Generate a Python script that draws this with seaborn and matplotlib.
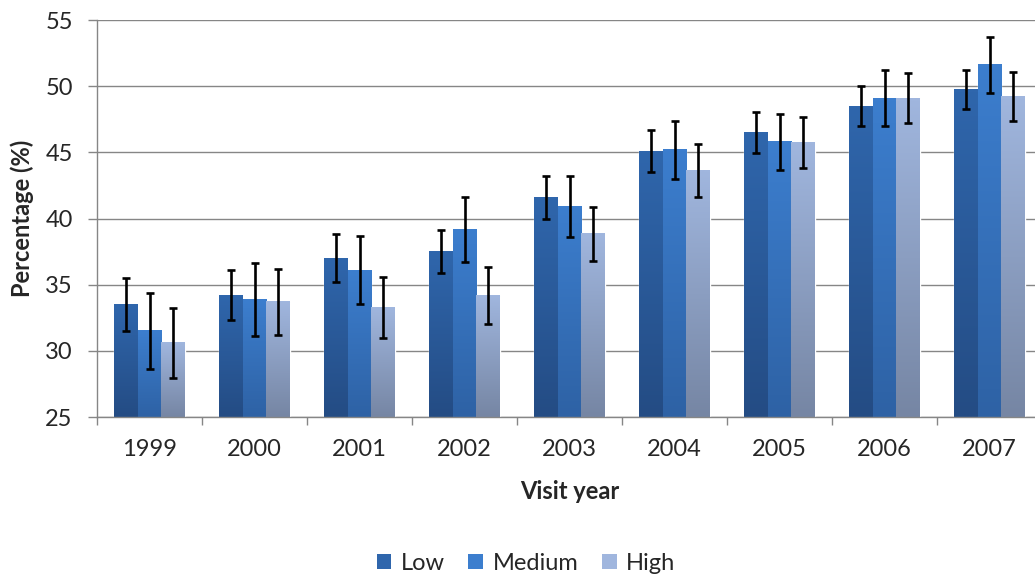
import numpy as np
import pandas as pd
import matplotlib
matplotlib.use("Agg")
import matplotlib.pyplot as plt
import matplotlib.colors as mcolors
from matplotlib.patches import Patch
import seaborn as sns

# --- data ---
years = ['1999', '2000', '2001', '2002', '2003', '2004', '2005', '2006', '2007']
levels = ['Low', 'Medium', 'High']

low = [33.5, 34.2, 37.0, 37.5, 41.6, 45.1, 46.5, 48.5, 49.75]
medium = [31.5, 33.85, 36.1, 39.2, 40.9, 45.2, 45.8, 49.1, 51.6]
high = [30.6, 33.7, 33.25, 34.15, 38.85, 43.6, 45.75, 49.1, 49.2]

low_err = [2.0, 1.9, 1.8, 1.65, 1.6, 1.55, 1.55, 1.5, 1.5]
medium_err = [2.9, 2.75, 2.55, 2.45, 2.3, 2.2, 2.1, 2.1, 2.15]
high_err = [2.65, 2.5, 2.3, 2.15, 2.05, 2.0, 1.95, 1.9, 1.85]

# gradient colours (top, bottom) per level
grad_top = {'Low': '#2F66AC', 'Medium': '#3C7ECE', 'High': '#A0B6DE'}
grad_bottom = {'Low': '#244C84', 'Medium': '#2E62A5', 'High': '#7686A4'}

df = pd.DataFrame({
    'Visit year': years * 3,
    'Percentage': low + medium + high,
    'Level': ['Low'] * 9 + ['Medium'] * 9 + ['High'] * 9,
})
errs = {'Low': low_err, 'Medium': medium_err, 'High': high_err}

sns.set_style("white")
plt.rcParams['font.family'] = ['Lato', 'DejaVu Sans']
fs = 17

fig = plt.figure(figsize=(10.35, 5.81), dpi=100)
ax = fig.add_axes([97 / 1035, 164 / 581, 945 / 1035, 397 / 581])

palette = {k: mcolors.to_rgb(grad_top[k]) for k in levels}
sns.barplot(data=df, x='Visit year', y='Percentage', hue='Level', hue_order=levels,
            palette=palette, width=0.68, gap=0, errorbar=None, saturation=1,
            legend=False, ax=ax, zorder=2)

ymin, ymax = 25, 55
grid_col = '#868686'

# gradient fill + error bars for every bar
for lvl, cont in zip(levels, ax.containers):
    c_top = np.array(mcolors.to_rgb(grad_top[lvl]))
    c_bot = np.array(mcolors.to_rgb(grad_bottom[lvl]))
    for bar, e in zip(cont, errs[lvl]):
        x0 = bar.get_x()
        w = bar.get_width()
        h = bar.get_height()
        t = np.linspace(0, 1, 64)[:, None]
        img = (c_bot * (1 - t) + c_top * t)[:, None, :]
        ax.imshow(img, extent=[x0, x0 + w, ymin, h], origin='lower',
                  aspect='auto', zorder=2.5, interpolation='bilinear')
        ax.errorbar(x0 + w / 2, h, yerr=e, fmt='none', ecolor='black',
                    elinewidth=1.9, capsize=2.7, capthick=1.9, zorder=4)

ax.set_xlim(-0.5, len(years) - 0.5)
ax.set_ylim(ymin, ymax)
ax.set_yticks(np.arange(25, 56, 5))

ax.yaxis.grid(True, color=grid_col, linewidth=1.0)
ax.xaxis.grid(False)
ax.set_axisbelow(True)

for s in ['top', 'right']:
    ax.spines[s].set_visible(False)
for s in ['left', 'bottom']:
    ax.spines[s].set_color(grid_col)
    ax.spines[s].set_linewidth(1.0)

ax.tick_params(axis='y', which='major', length=6.5, width=1.0, color=grid_col,
               left=True, pad=11, labelsize=fs)
ax.tick_params(axis='x', which='major', length=0, pad=16, labelsize=fs)
ax.set_xticks(np.arange(-0.5, len(years), 1.0), minor=True)
ax.tick_params(axis='x', which='minor', length=6, width=1.0, color=grid_col,
               bottom=True, direction='out')

ax.set_xlabel('Visit year', fontsize=fs, fontweight='bold', labelpad=14)
ax.set_ylabel('Percentage (%)', fontsize=fs, fontweight='bold', labelpad=8)

handles = [Patch(facecolor=grad_top[k], edgecolor='none') for k in levels]
fig.legend(handles, levels, loc='center', bbox_to_anchor=(526 / 1035, 1 - 563 / 581),
           ncol=3, frameon=False, fontsize=fs, handlelength=0.62, handleheight=0.62,
           handletextpad=0.4, columnspacing=1.0)

fig.savefig('out.png', dpi=100)
